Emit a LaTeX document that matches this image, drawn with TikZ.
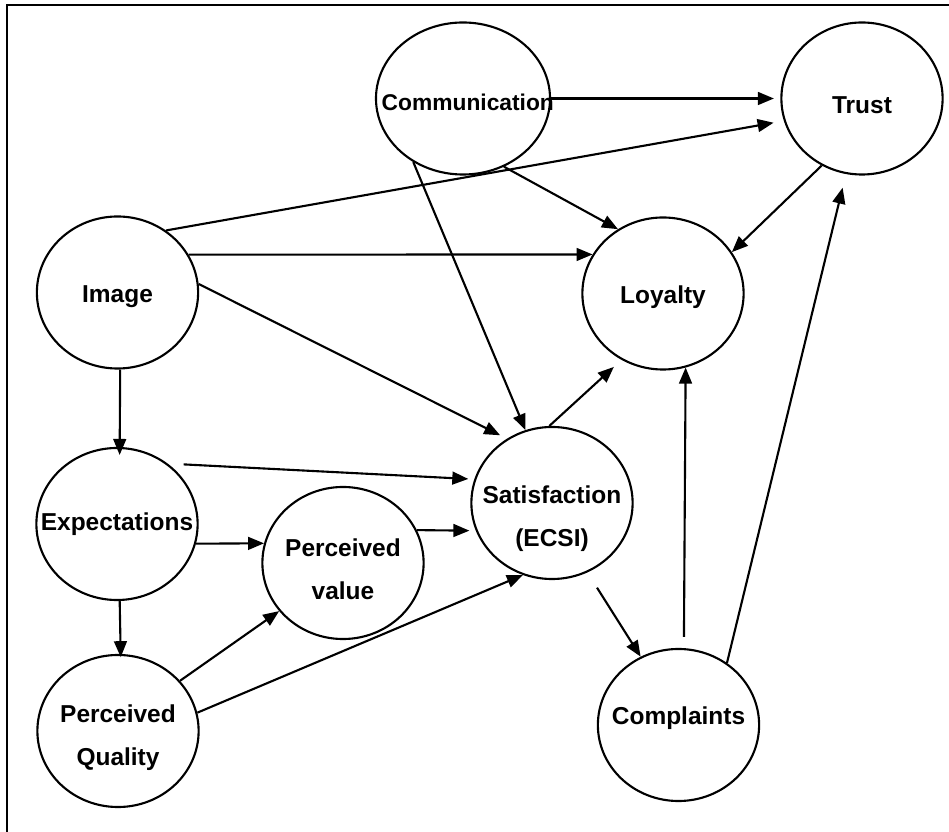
\documentclass[tikz,border=0pt]{standalone}
\usepackage{fontspec}
\setmainfont{Liberation Sans}
\usetikzlibrary{shapes.geometric,arrows.meta}

\begin{document}
\begin{tikzpicture}[x=0.025cm,y=-0.025cm,
    oval/.style={ellipse,draw,line width=1.5pt,minimum width=4.03cm,minimum height=3.8cm,inner sep=0pt},
    txt/.style={font=\bfseries\fontsize{17.4}{30.6}\selectfont,align=center,inner sep=0pt,yshift=-0.1cm},
    arr/.style={-{Triangle[length=0.4cm,width=0.32cm]},line width=1.5pt}]
    \useasboundingbox (0,0) rectangle (949,832);
    \draw[line width=1.5pt] (7,832) -- (7,5) -- (949,5); % frame

    % constructs
    \node[oval,minimum width=4.35cm,label={[txt,xshift=0.12cm,font=\bfseries\fontsize{16.2}{30.6}\selectfont]center:Communication}] (comm) at (463,98.5) {};
    \node[oval,label={[txt,yshift=-0.06cm]center:Trust}] (trust) at (862,98.5) {};
    \node[oval,label={[txt]center:Image}] (img) at (117.5,292.5) {};
    \node[oval,label={[txt]center:Loyalty}] (loy) at (663,293.5) {};
    \node[oval,label={[txt,yshift=0.1cm]center:Expectations}] (exp) at (117,524) {};
    \node[oval,label={[txt,yshift=-0.06cm]center:{Perceived\\value}}] (pv) at (343,563) {};
    \node[oval,label={[txt,yshift=-0.06cm]center:{Perceived\\Quality}}] (pq) at (118,731) {};
    \node[oval,label={[txt,yshift=-0.28cm]center:{Satisfaction\\(ECSI)}}] (sat) at (552,503) {};
    \node[oval,label={[txt,yshift=0.26cm]center:Complaints}] (comp) at (678.5,725) {};

    % paths
    \draw[arr,shorten >=0.16cm] (comm.east) -- (trust.west);
    \draw[arr,shorten >=0.26cm] (img.52) -- (trust.196);
    \draw[arr] (comm.301) -- (loy.125);
    \draw[arr] (img.28) -- (loy.151);
    \draw[arr] (trust.239) -- (loy.31);
    \draw[arr,shorten >=0.19cm] (img.6) -- (sat.125);
    \draw[arr] (comm.232) -- (sat.110);
    \draw[arr,shorten >=0.26cm] (sat.92) -- (loy.238);
    \draw[arr,shorten <=0.28cm] (comp.86) -- (loy.287);
    \draw[arr,shorten >=0.35cm] (comp.52) -- (trust.258);
    \draw[arr,shorten >=-0.2cm] (img.272) -- (exp.88);
    \draw[arr,shorten <=0.4cm,shorten >=0.15cm] (exp.50) -- (sat.163);
    \draw[arr] (exp.346) -- (pv.166);
    \draw[arr,shorten >=0.16cm] (pv.24) -- (sat.200);
    \draw[arr,shorten >=-0.08cm] (exp.272) -- (pq.88);
    \draw[arr] (pq.39) -- (pv.217);
    \draw[arr] (pq.13) -- (sat.248);
    \draw[arr,shorten <=0.45cm] (sat.297) -- (comp.119);
\end{tikzpicture}
\end{document}
